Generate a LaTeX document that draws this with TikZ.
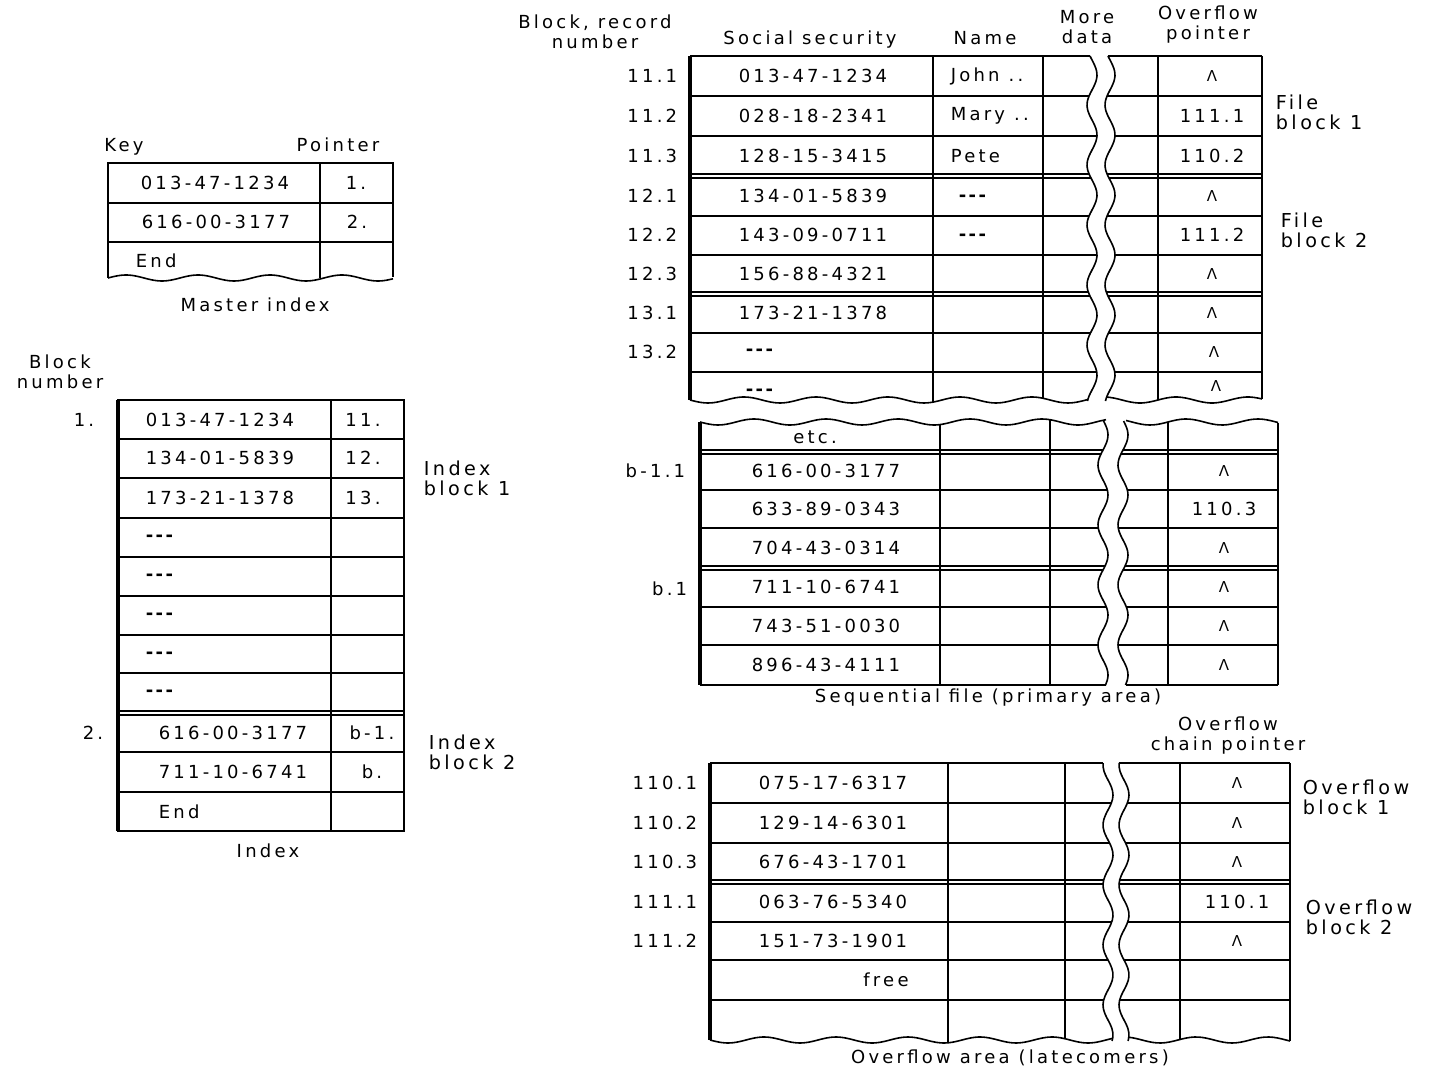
\documentclass[tikz,border=0pt]{standalone}
\usepackage{fontspec}
\setmainfont{DejaVu Sans}[LetterSpace=18]
\usepackage{tikz}

\newcommand{\nil}{{\fontsize{7.5}{8}\selectfont Λ}}
\newcommand{\etcdots}{{\bfseries -\kern1.2pt-\kern1.2pt-}}

\begin{document}
\begin{tikzpicture}[x=0.5pt, y=-0.5pt, line width=0.8pt,
    every node/.style={inner sep=0pt, font=\fontsize{9}{10}\selectfont},
    lab/.style={anchor=east},
    two/.style={align=center},
    side/.style={anchor=west, align=left, font=\fontsize{9.6}{10}\selectfont}]
    \useasboundingbox (0,0) rectangle (1431,1069);

    % ---------------- Master index ----------------
    \node (key) at (124,147) {Key};
    \node (pointer) at (338,145) {Pointer};
    \draw (108,278) -- (108,163) -- (393,163) -- (393,277); % frame
    \draw (320,163) -- (320,278); % column line
    \draw (108,203) -- (393,203);
    \draw (108,242) -- (393,242);
    \draw[domain=108:393, samples=60, smooth] plot (\x,{278-3*sin(5*(\x-108))}); % torn edge
    \node (mk1) at (215,183) {013-47-1234};
    \node (mp1) at (356,183) {1.};
    \node (mk2) at (216,222) {616-00-3177};
    \node (mp2) at (357,222) {2.};
    \node[anchor=west] (mend) at (135,261) {End};
    \node (mcap) at (255,305) {Master index};

    % ---------------- Index ----------------
    \node[two] (blknum) at (60,372) {Block\\number};
    \draw (118,400) rectangle (404,831);
    \draw[line width=1.6pt] (118,400) -- (118,831); % heavy left edge
    \draw (331,400) -- (331,831);
    \foreach \y in {439,478,518,557,596,635,673,711,715,752,792}
        \draw (118,\y) -- (404,\y);
    \node[lab] (ib1n) at (95,420) {1.};
    \node[lab] (ib2n) at (104,733) {2.};
    \foreach \i/\y/\k/\p in {1/420/013-47-1234/11., 2/458/134-01-5839/12., 3/498/173-21-1378/13.} {
        \node (ik\i) at (220,\y) {\k};
        \node (ip\i) at (363,\y) {\p};
    }
    \foreach \i/\y in {4/538, 5/577, 6/616, 7/655, 8/693}
        \node[anchor=west] (ik\i) at (145,\y) {\etcdots};
    \node (ik9) at (233,733) {616-00-3177};
    \node (ip9) at (372,733) {b-1.};
    \node (ik10) at (233,772) {711-10-6741};
    \node (ip10) at (372,772) {b.};
    \node[anchor=west] (ik11) at (158,812) {End};
    \node[side] (iblk1) at (423,478) {Index\\block 1};
    \node[side] (iblk2) at (428,752) {Index\\block 2};
    \node (icap) at (268,851) {Index};

    % ---------------- Sequential file, upper part ----------------
    \node[two] (hblock) at (595,32) {Block, record\\number};
    \node (hss) at (810,40) {Social security};
    \node (hname) at (985,38) {Name};
    \node[two] (hmore) at (1087,27) {More\\data};
    \node[two] (hptr) at (1208,25) {Overflow\\pointer};
    \foreach \x in {690,933,1043,1158,1262} {
        \pgfmathsetmacro\yb{400+3*sin(5*(\x-690))}
        \draw (\x,56) -- (\x,\yb);
    }
    \draw[line width=1.6pt] (690,56) -- (690,400);
    \foreach \y in {56,96,136,174,178,216,255,292,296,333,372} {
        \pgfmathsetmacro\xa{1092+5*sin(6*\y)}
        \pgfmathsetmacro\xb{1110+5*sin(6*\y)}
        \draw (690,\y) -- (\xa,\y) (\xb,\y) -- (1262,\y);
    }
    % break in the "more data" column
    \draw[domain=56:401, samples=70, smooth] plot ({1092+5*sin(6*\x)},\x);
    \draw[domain=56:401, samples=70, smooth] plot ({1110+5*sin(6*\x)},\x);
    % torn lower edge
    \draw[domain=690:1088, samples=70, smooth] plot (\x,{400+3*sin(5*(\x-690))});
    \draw[domain=1106:1262, samples=40, smooth] plot (\x,{400+3*sin(5*(\x-690))});
    \foreach \i/\y/\lab/\ss/\pt in {1/76/11.1/013-47-1234/\nil, 2/116/11.2/028-18-2341/111.1,
        3/156/11.3/128-15-3415/110.2, 4/196/12.1/134-01-5839/\nil, 5/235/12.2/143-09-0711/111.2,
        6/274/12.3/156-88-4321/\nil, 7/313/13.1/173-21-1378/\nil} {
        \node[lab] (sb\i) at (678,\y) {\lab};
        \node (ss\i) at (813,\y) {\ss};
        \node (sp\i) at (1212,\y) {\pt};
    }
    \node[lab] (sb8) at (678,352) {13.2};
    \node[anchor=west] (ss8) at (745,352) {\etcdots};
    \node (sp8) at (1214,352) {\nil};
    \node[anchor=west] (ss9) at (745,392) {\etcdots};
    \node (sp9) at (1216,386) {\nil};
    \node[anchor=west] (sn1) at (950,76) {John ..};
    \node[anchor=west] (sn2) at (950,116) {Mary ..};
    \node[anchor=west] (sn3) at (950,156) {Pete};
    \node[anchor=west] (sn4) at (958,198) {\etcdots};
    \node[anchor=west] (sn5) at (958,237) {\etcdots};
    \node[side] (fblk1) at (1275,112) {File\\block 1};
    \node[side] (fblk2) at (1280,230) {File\\block 2};

    % ---------------- Sequential file, lower part ----------------
    \foreach \x in {700,940,1050,1168,1278} {
        \pgfmathsetmacro\yt{422+3*sin(5*(\x-700))}
        \draw (\x,\yt) -- (\x,685);
    }
    \draw[line width=1.6pt] (700,422) -- (700,685);
    \foreach \y in {450,454,490,528,566,570,607,645,685} {
        \pgfmathsetmacro\xa{1103+5*sin(6*\y)}
        \pgfmathsetmacro\xb{1123+5*sin(6*\y)}
        \draw (700,\y) -- (\xa,\y) (\xb,\y) -- (1278,\y);
    }
    \draw[domain=421:685, samples=60, smooth] plot ({1103+5*sin(6*\x)},\x);
    \draw[domain=421:685, samples=60, smooth] plot ({1123+5*sin(6*\x)},\x);
    % torn upper edge
    \draw[domain=700:1106, samples=70, smooth] plot (\x,{422+3*sin(5*(\x-700))});
    \draw[domain=1126:1278, samples=40, smooth] plot (\x,{422+3*sin(5*(\x-700))});
    \node (etc) at (815,437) {etc.};
    \foreach \i/\y/\ss/\pt in {1/471/616-00-3177/\nil, 2/509/633-89-0343/110.3, 3/548/704-43-0314/\nil,
        4/587/711-10-6741/\nil, 5/626/743-51-0030/\nil, 6/665/896-43-4111/\nil} {
        \node (ls\i) at (826,\y) {\ss};
        \node (lp\i) at (1224,\y) {\pt};
    }
    \node[lab] (lb1) at (686,471) {b-1.1};
    \node[lab] (lb4) at (688,589) {b.1};
    \node (scap) at (988,698) {Sequential file (primary area)};

    % ---------------- Overflow area ----------------
    \node[two] (hchain) at (1228,736) {Overflow\\chain pointer};
    \foreach \x in {710,948,1065,1180,1290} {
        \pgfmathsetmacro\yb{1040+3*sin(5*(\x-710))}
        \draw (\x,763) -- (\x,\yb);
    }
    \draw[line width=1.6pt] (710,763) -- (710,1040);
    \foreach \y in {763,803,843,880,884,922,960,1000} {
        \pgfmathsetmacro\xa{1108+5*sin(6*\y)}
        \pgfmathsetmacro\xb{1124+5*sin(6*\y)}
        \draw (710,\y) -- (\xa,\y) (\xb,\y) -- (1290,\y);
    }
    \draw[domain=763:1041, samples=70, smooth] plot ({1108+5*sin(6*\x)},\x);
    \draw[domain=763:1041, samples=70, smooth] plot ({1124+5*sin(6*\x)},\x);
    % torn lower edge
    \draw[domain=710:1112, samples=70, smooth] plot (\x,{1040+3*sin(5*(\x-710))});
    \draw[domain=1128:1290, samples=40, smooth] plot (\x,{1040+3*sin(5*(\x-710))});
    \foreach \i/\y/\lab/\ss/\pt in {1/783/110.1/075-17-6317/\nil, 2/823/110.2/129-14-6301/\nil,
        3/862/110.3/676-43-1701/\nil, 4/902/111.1/063-76-5340/110.1, 5/941/111.2/151-73-1901/\nil} {
        \node[lab] (ob\i) at (698,\y) {\lab};
        \node (os\i) at (833,\y) {\ss};
        \node (op\i) at (1237,\y) {\pt};
    }
    \node (ofree) at (886,980) {free};
    \node[side] (oblk1) at (1302,797) {Overflow\\block 1};
    \node[side] (oblk2) at (1305,917) {Overflow\\block 2};
    \node (ocap) at (1010,1058) {Overflow area (latecomers)};
\end{tikzpicture}
\end{document}
